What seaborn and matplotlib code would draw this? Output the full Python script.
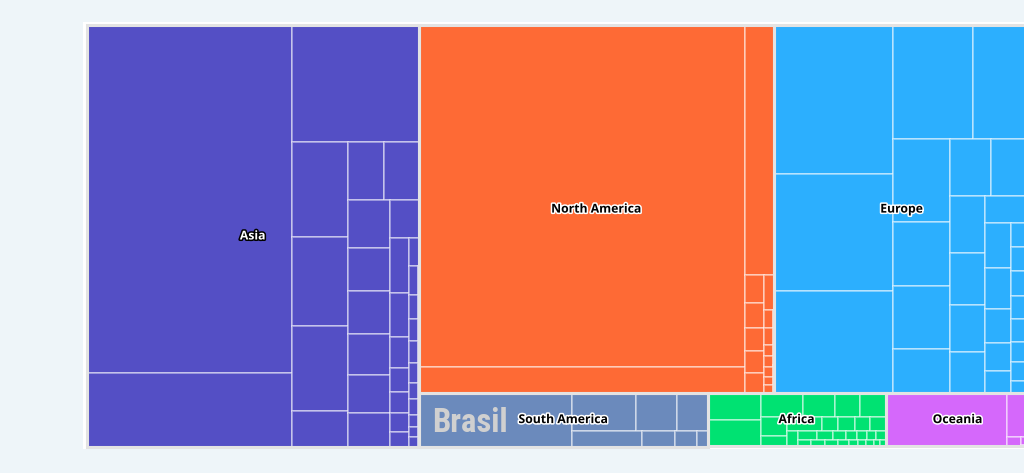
"""Treemap of country values grouped by continent (squarified, alternating rows)."""

import matplotlib

matplotlib.use("Agg")
import matplotlib.patheffects as pe
import matplotlib.pyplot as plt
import numpy as np
import seaborn as sns
from matplotlib import font_manager
from matplotlib.patches import Rectangle

PAGE_COLOR = "#eef5f9"
CARD_COLOR = "#ffffff"
BORDER_COLOR = "#e3e3e3"
CELL_EDGE = (1, 1, 1, 0.5)

continents = ["Asia", "North America", "Europe", "South America", "Africa", "Oceania"]
continent_colors = ["#544fc5", "#fe6a35", "#2caffe", "#6b8abc", "#00e272", "#d568fb"]

# country values per continent, in the order they are laid out
asia_values = [
    71411, 15104, 14737, 5320, 4984, 4760, 1988, 2059, 2030, 2016, 1806, 1806,
    1722, 1596, 1407, 1083, 1045, 836, 589, 456, 399, 361, 276,
    266, 266, 219, 200, 200, 180, 152, 143, 105, 95, 86, 71,
]
north_america_values = [
    111173, 8489, 7139, 513, 475, 437, 418, 361,
    340, 160, 150, 105, 100, 85, 80, 65, 40, 20,
]
europe_values = [
    17746, 13982, 12070, 9040, 6385, 4760, 3648, 3534, 2508, 2358, 2214,
    1995, 1785, 1645, 1435, 1202, 1170, 1040, 884, 728, 572,
    444, 444, 444, 425, 425, 370, 351, 222,
]
south_america_values = [8257, 2457, 1560, 1170, 1070, 512, 326, 170]
africa_values = [
    1480, 1400, 1032, 768, 624, 624, 487, 262,
    480, 225, 225, 210, 210, 180, 170, 150, 120, 100, 95, 90, 85, 80, 75,
    70, 60, 50, 45, 40, 35, 30, 25, 20, 15, 10,
]
oceania_values = [6513, 1012, 130, 50, 20, 10]

country_values = [
    asia_values,
    north_america_values,
    europe_values,
    south_america_values,
    africa_values,
    oceania_values,
]
highlight_country = "Brasil"
highlight_continent = "South America"


def _div(a, b):
    """Division that behaves like JavaScript (NaN / Infinity instead of errors)."""
    if np.isnan(a) or np.isnan(b):
        return np.nan
    if b == 0:
        return np.nan if a == 0 else np.inf
    return a / b


def _ratio(w, h):
    a, b = _div(w, h), _div(h, w)
    if np.isnan(a) or np.isnan(b):
        return np.nan
    return max(a, b)


class _Group:
    def __init__(self, height, width, direction):
        self.height = height
        self.width = width
        self.direction = direction
        self.total = 0.0
        self.nW = self.lW = self.nH = self.lH = 0.0
        self.items = []
        self.last_total = np.nan
        self.lR = self.nR = np.nan

    def add(self, el):
        self.last_total = self.items[-1] if self.items else np.nan
        self.total += el
        if self.direction == 0:
            self.lW = self.nW
            lH = _div(self.last_total, self.lW)
            self.lR = _ratio(self.lW, lH)
            self.nW = _div(self.total, self.height)
            nH = _div(self.last_total, self.nW)
            self.nR = _ratio(self.nW, nH)
        else:
            self.lH = self.nH
            lW = _div(self.last_total, self.lH)
            self.lR = _ratio(lW, self.lH)
            self.nH = _div(self.total, self.width)
            nW = _div(self.last_total, self.nH)
            self.nR = _ratio(nW, self.nH)
        self.items.append(el)

    def reset(self):
        self.nW = self.lW = 0.0
        self.items = []
        self.total = 0.0


def _place(group, last, out, plot, parent):
    gW, gH = (group.nW, group.nH) if last else (group.lW, group.lH)
    keep = None if last else group.items[-1]
    end = len(group.items) - 1
    for i, area in enumerate(group.items):
        if last or i < end:
            if group.direction == 0:
                w, h = gW, area / gW
            else:
                w, h = area / gH, gH
            out.append((plot["x"], plot["y"], w, h))
            if group.direction == 0:
                plot["y"] += h
            else:
                plot["x"] += w
    group.reset()
    if group.direction == 0:
        group.width -= gW
    else:
        group.height -= gH
    plot["y"] = parent[1] + (parent[3] - group.height)
    plot["x"] = parent[0] + (parent[2] - group.width)
    group.direction = 1 - group.direction
    if keep is not None:
        group.add(keep)


def squarified(x, y, w, h, values):
    total = float(sum(values))
    areas = [w * h * v / total for v in values]
    parent = (x, y, w, h)
    plot = {"x": x, "y": y}
    group = _Group(h, w, 0)
    out = []
    for i, area in enumerate(areas):
        group.add(area)
        if group.nR > group.lR:
            _place(group, False, out, plot, parent)
        if i == len(areas) - 1:
            _place(group, True, out, plot, parent)
    return out


def _pick_font(*names):
    installed = {f.name for f in font_manager.fontManager.ttflist}
    for name in names:
        if name in installed:
            return name
    return "DejaVu Sans"


sns.set_theme(style="white")
plt.rcParams["font.family"] = ["Open Sans", "DejaVu Sans"]

fig = plt.figure(figsize=(10.24, 4.73), dpi=100, facecolor=PAGE_COLOR)
ax = fig.add_axes([0, 0, 1, 1])
ax.set_xlim(0, 1024)
ax.set_ylim(473, 0)
ax.axis("off")
ax.set_facecolor(PAGE_COLOR)

# white card behind the chart
ax.add_patch(Rectangle((83, 22), 1100, 427, facecolor=CARD_COLOR, edgecolor="none", zorder=0))

tree_box = (86.5, 25.5, 943.0, 421.0)
continent_totals = [sum(v) for v in country_values]
continent_rects = squarified(*tree_box, continent_totals)

for name, color, values, rect in zip(continents, continent_colors, country_values, continent_rects):
    cells = squarified(*rect, values)
    for cx, cy, cw, ch in cells:
        ax.add_patch(
            Rectangle((cx, cy), cw, ch, facecolor=color, edgecolor=CELL_EDGE, linewidth=1.2, zorder=1)
        )
    x, y, w, h = rect
    ax.add_patch(
        Rectangle((x, y), w, h, facecolor="none", edgecolor=BORDER_COLOR, linewidth=2.2, zorder=2)
    )

    if name == highlight_continent:
        bx, by, bw, bh = cells[0]
        narrow = _pick_font("Liberation Sans Narrow", "Roboto Condensed", "Lato")
        ax.text(
            bx + 13, by + bh / 2 + 12, highlight_country,
            ha="left", va="baseline", fontsize=23.5, fontweight="heavy",
            family=[narrow, "DejaVu Sans"],
            color="#d0d0d0", zorder=3,
        )

    dark_bg = name == "Asia"
    ax.text(
        x + w / 2, y + h / 2, name,
        ha="center", va="center", fontsize=8.8, fontweight="bold",
        color="white" if dark_bg else "#000000", zorder=4,
        path_effects=[pe.withStroke(linewidth=2.2, foreground="#000000" if dark_bg else "white")],
    )

fig.savefig("out.png", dpi=100, facecolor=PAGE_COLOR)
